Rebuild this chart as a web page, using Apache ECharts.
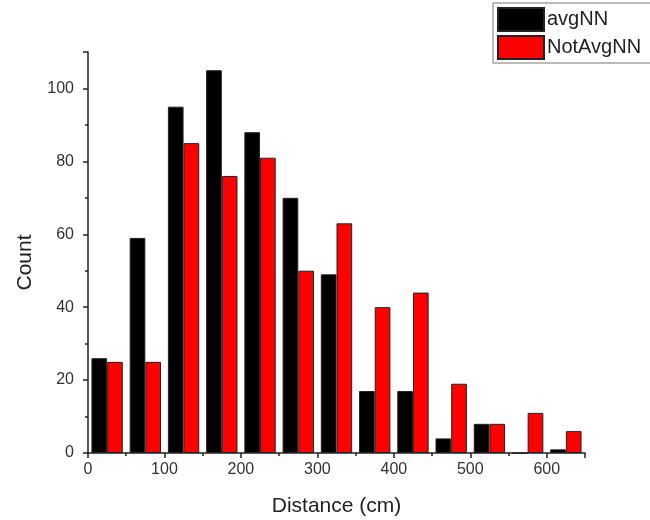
<!DOCTYPE html>
<html>
<head>
<meta charset="utf-8">
<script src="https://cdn.jsdelivr.net/npm/echarts@6/dist/echarts.min.js"></script>
<style>
  html, body { margin: 0; padding: 0; background: #fff; }
  #chart { width: 650px; height: 520px; }
</style>
</head>
<body>
<div id="chart"></div>
<script>
// bins of 50 cm, 0-650
var bins = ['0-50','50-100','100-150','150-200','200-250','250-300','300-350','350-400','400-450','450-500','500-550','550-600','600-650'];
var avgNN    = [26, 59, 95, 105, 88, 70, 49, 17, 17, 4, 8, 0, 1];
var notAvgNN = [25, 25, 85, 76, 81, 50, 63, 40, 44, 19, 8, 11, 6];
var xTicks = [0, 100, 200, 300, 400, 500, 600];
var yTicks = [0, 20, 40, 60, 80, 100];

var chart = echarts.init(document.getElementById('chart'));
var fontFam = 'Liberation Sans, Arial, sans-serif';
var axisColor = '#222';

var option = {
    animation: false,
    textStyle: { fontFamily: fontFam },
    grid: { left: 88, right: 65, top: 52, bottom: 67, outerBoundsMode: 'none', containLabel: false },
    legend: {
        orient: 'vertical',
        left: 493,
        top: 3,
        padding: [4, 40, 3, 4],
        itemWidth: 46,
        itemHeight: 23,
        itemGap: 3,
        borderColor: '#777',
        borderWidth: 1,
        icon: 'rect',
        textStyle: { fontSize: 20, color: '#222', fontFamily: fontFam, padding: [0, 0, 0, -2] },
        data: ['avgNN', 'NotAvgNN']
    },
    xAxis: [
        {
            type: 'category',
            data: bins,
            position: 'bottom',
            axisLine: { show: false },
            axisTick: { show: false },
            axisLabel: { show: false },
            splitLine: { show: false }
        },
        {
            type: 'value',
            position: 'bottom',
            min: 0,
            max: 650,
            interval: 100,
            name: 'Distance (cm)',
            nameLocation: 'middle',
            nameGap: 43,
            nameTextStyle: { fontSize: 21, color: '#222' },
            axisLine: { show: true, lineStyle: { color: axisColor, width: 1.5 } },
            axisTick: { show: true, length: 5, lineStyle: { color: axisColor, width: 1.5 } },
            minorTick: { show: true, splitNumber: 2, length: 3, lineStyle: { color: axisColor, width: 1.5 } },
            axisLabel: {
                fontSize: 16, color: '#333', margin: 9,
                formatter: function (v) { return xTicks.indexOf(v) >= 0 ? v : ''; }
            },
            splitLine: { show: false }
        }
    ],
    yAxis: {
        type: 'value',
        min: 0,
        max: 110,
        interval: 20,
        name: 'Count',
        nameLocation: 'middle',
        nameGap: 52,
        nameRotate: 90,
        nameTextStyle: { fontSize: 21, color: '#222', padding: [0, 20, 0, 0] },
        axisLine: { show: true, lineStyle: { color: axisColor, width: 1.5 } },
        axisTick: { show: true, length: 5, lineStyle: { color: axisColor, width: 1.5 } },
        minorTick: { show: true, splitNumber: 2, length: 3, lineStyle: { color: axisColor, width: 1.5 } },
        axisLabel: {
            fontSize: 16, color: '#333', margin: 14,
            formatter: function (v) { return yTicks.indexOf(v) >= 0 ? v : ''; }
        },
        splitLine: { show: false }
    },
    series: [
        {
            name: 'avgNN',
            type: 'bar',
            xAxisIndex: 0,
            data: avgNN,
            barGap: '0%',
            barCategoryGap: '18%',
            itemStyle: { color: '#000', borderColor: '#222', borderWidth: 1 }
        },
        {
            name: 'NotAvgNN',
            type: 'bar',
            xAxisIndex: 0,
            data: notAvgNN,
            itemStyle: { color: '#ff0000', borderColor: '#222', borderWidth: 1 }
        }
    ]
};
chart.setOption(option);
</script>
</body>
</html>
